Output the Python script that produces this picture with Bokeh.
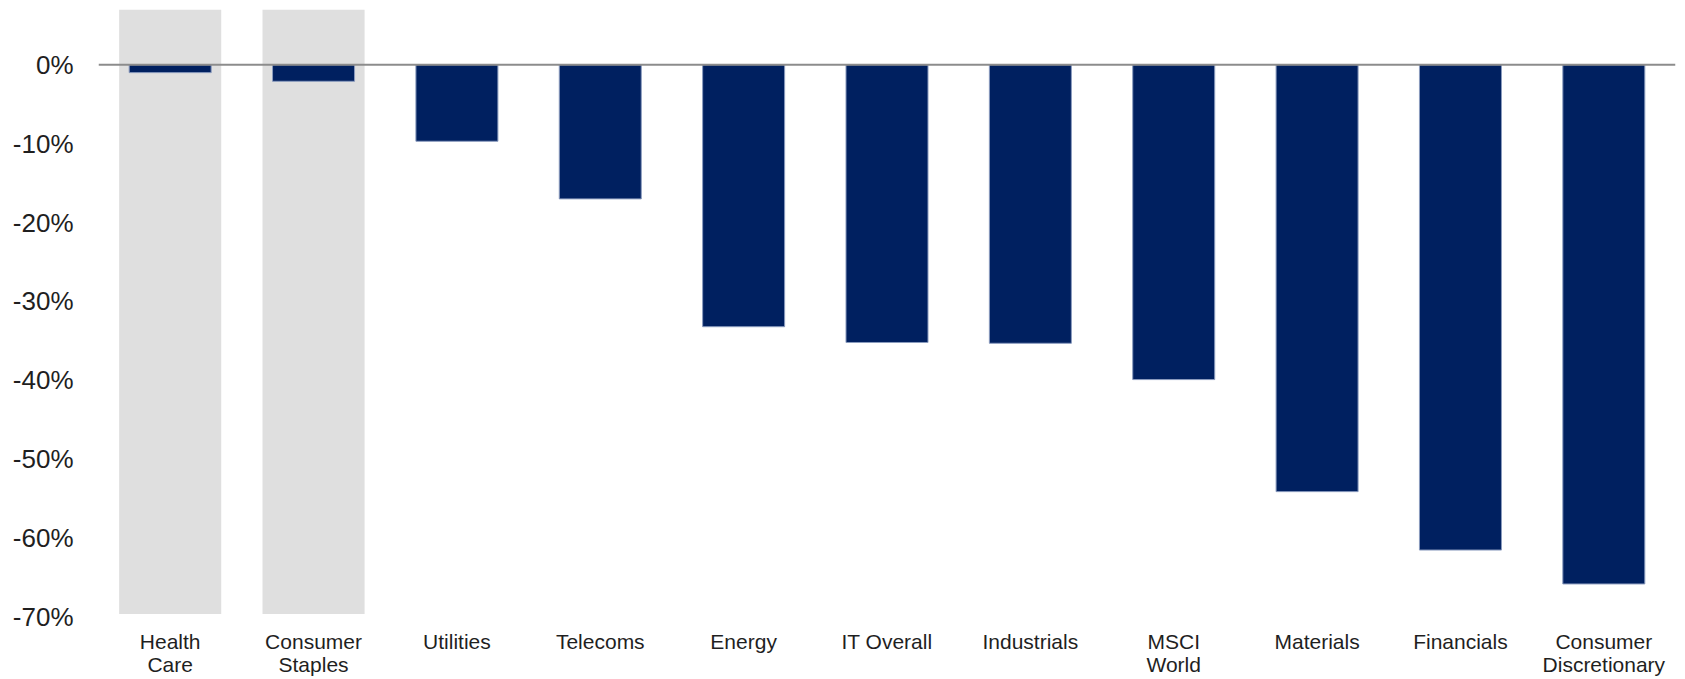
from bokeh.plotting import figure
from bokeh.models import FactorRange, Range1d, Span, FixedTicker, PrintfTickFormatter
from bokeh.embed import file_html
from bokeh.resources import INLINE

# ---- data ----
categories = ["Health Care", "Consumer Staples", "Utilities", "Telecoms", "Energy",
              "IT Overall", "Industrials", "MSCI World", "Materials", "Financials",
              "Consumer Discretionary"]
values = [-1.0, -2.1, -9.7, -17.0, -33.2, -35.2, -35.3, -39.9, -54.1, -61.5, -65.8]
highlighted = ["Health Care", "Consumer Staples"]
y_ticks = [0, -10, -20, -30, -40, -50, -60, -70]
label_lines = {
    "Health Care": "Health\nCare",
    "Consumer Staples": "Consumer\nStaples",
    "MSCI World": "MSCI\nWorld",
    "Consumer Discretionary": "Consumer\nDiscretionary",
}

# factors as displayed (two-line labels)
factors = [label_lines.get(c, c) for c in categories]
hl_factors = [label_lines.get(c, c) for c in highlighted]

# ---- styling ----
Y_START, Y_END = -70.05, 7.0
BAND_BOTTOM = -69.6
FONT = "Liberation Sans"
TEXT_COLOR = "#1F1F1F"

p = figure(
    x_range=FactorRange(*factors),
    y_range=Range1d(Y_START, Y_END),
    width=1685, height=679,
    min_border_left=98, min_border_right=10, min_border_top=9, min_border_bottom=62,
    output_backend="svg", toolbar_location=None,
)

# grey highlight bands
p.vbar(x=hl_factors, width=0.712, top=Y_END, bottom=BAND_BOTTOM,
       fill_color="#DFDFDF", line_color=None)

# bars
p.vbar(x=factors, top=0, bottom=values, width=0.572,
       fill_color="#002060", line_color="#8A9BBE", line_width=1)

# zero line
p.add_layout(Span(location=0, dimension="width", line_color="#8C8C8C", line_width=2))

p.grid.visible = False
p.outline_line_color = None
p.background_fill_color = "white"
p.border_fill_color = "white"

for ax in (p.xaxis, p.yaxis):
    ax.axis_line_color = None
    ax.major_tick_line_color = None
    ax.minor_tick_line_color = None
    ax.major_tick_out = 0
    ax.major_tick_in = 0
    ax.major_label_text_font = FONT
    ax.major_label_text_color = TEXT_COLOR

p.yaxis.ticker = FixedTicker(ticks=y_ticks)
p.yaxis.formatter = PrintfTickFormatter(format="%d%%")
p.yaxis.major_label_text_font_size = "26px"
p.yaxis.major_label_standoff = 25

p.xaxis.major_label_text_font_size = "21px"
p.xaxis.major_label_text_line_height = 1.0
p.xaxis.major_label_standoff = 12

open("out.html", "w").write(file_html(p, INLINE))
